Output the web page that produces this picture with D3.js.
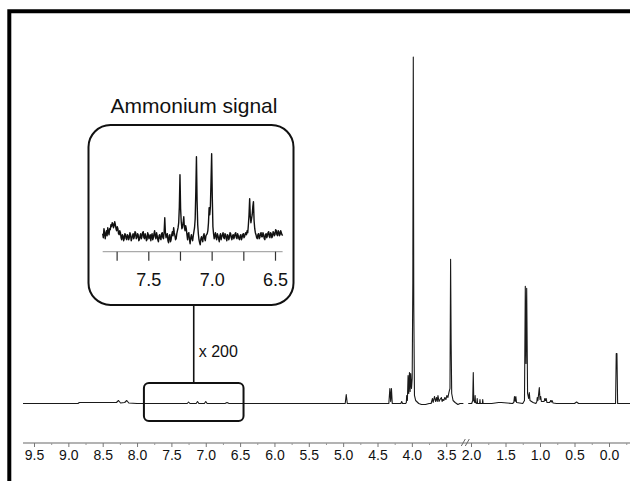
<!DOCTYPE html>
<html>
<head>
<meta charset="utf-8">
<script src="https://cdn.jsdelivr.net/npm/d3@7"></script>
<style>
  html, body { margin: 0; padding: 0; background: #fff; }
  svg { display: block; }
  text { font-family: "Liberation Sans", Arial, Helvetica, sans-serif; fill: #111; }
</style>
</head>
<body>
<svg id="chart" width="630" height="481"></svg>
<script>
// ---------------- DATA ----------------
// Main 1H spectrum, left part of broken axis (ppm, intensity a.u.)
const spectrumLeft = [
  [9.66, 0], [8.86, 0], [8.84, 1], [8.30, 1], [8.27, 3], [8.24, 0.5], [8.18, 1], [8.15, 3], [8.12, 0.5], [8.00, 0],
  [7.27, 0], [7.25, 1.5], [7.23, 0], [7.14, 0], [7.12, 2], [7.10, 0], [7.02, 0], [7.00, 2], [6.98, 0],
  [6.72, 0], [6.69, 1], [6.66, 0],
  [4.97, 0], [4.955, 9], [4.94, 0],
  [4.335, 0], [4.32, 15], [4.308, 2], [4.297, 15], [4.285, 0],
  [4.16, 0], [4.148, 2], [4.135, 0],
  [4.09, 0], [4.08, 1], [4.075, 8], [4.065, 3], [4.055, 28], [4.045, 10], [4.035, 31], [4.025, 12],
  [4.017, 30], [4.005, 15], [3.995, 25], [3.986, 120], [3.979, 346], [3.972, 100], [3.962, 8],
  [3.945, 3], [3.90, 0], [3.86, -1], [3.80, -1], [3.75, 0],
  [3.72, 0], [3.70, 5], [3.69, 1], [3.67, 7], [3.655, 2], [3.64, 6], [3.63, 2], [3.62, 8], [3.605, 2],
  [3.59, 4], [3.57, 6], [3.56, 2], [3.55, 4], [3.535, 3], [3.52, 6], [3.505, 4], [3.49, 8], [3.475, 6],
  [3.46, 11], [3.445, 15], [3.436, 144], [3.428, 60], [3.42, 10], [3.40, 3], [3.37, 1], [3.33, -1], [3.30, 0], [3.25, 0]
];
// Main spectrum, right part of broken axis
const spectrumRight = [
  [2.04, 0], [1.99, 0], [1.975, 3], [1.967, 31], [1.96, 3], [1.945, 1], [1.94, 8], [1.935, 1],
  [1.915, 0], [1.91, 5], [1.905, 0], [1.875, 0], [1.87, 4], [1.865, 0], [1.835, 0], [1.83, 4], [1.825, 0],
  [1.70, 0], [1.60, 1], [1.56, 1], [1.40, 0], [1.38, 1], [1.37, 7], [1.36, 2], [1.35, 7], [1.34, 1],
  [1.25, 0], [1.225, 3], [1.213, 117], [1.203, 40], [1.193, 115], [1.18, 10], [1.165, 5], [1.155, 11], [1.145, 3],
  [1.10, 1], [1.06, 0], [1.045, 2], [1.04, 6], [1.03, 3], [1.01, 16], [1.0, 4], [0.99, 7], [0.98, 2],
  [0.94, 2], [0.93, 5], [0.92, 3], [0.91, 5], [0.90, 1], [0.86, 1], [0.845, 3], [0.835, 1.5], [0.826, 3],
  [0.81, 0.5], [0.76, 0], [0.50, 0], [0.47, 1.5], [0.44, 0],
  [-0.095, 0], [-0.105, 50], [-0.115, 50], [-0.125, 0], [-0.33, 0]
];
// Inset: ammonium region, x 200 (ppm, intensity a.u.)
const insetSpectrum = [
  [7.86,3],[7.855,-1],[7.85,8],[7.845,4],[7.84,-2],[7.835,3],[7.83,6],[7.825,1],[7.82,9],[7.815,5],
  [7.81,2],[7.805,8],[7.80,7],[7.795,12],[7.79,10],[7.785,14],[7.78,13],[7.775,9],[7.77,11],[7.765,15],
  [7.76,12],[7.755,8],[7.75,6],[7.745,10],[7.74,8],[7.735,3],[7.73,2],[7.725,6],[7.72,4],[7.715,-1],
  [7.71,-3],[7.705,2],[7.70,1],[7.695,-4],[7.69,-2],[7.685,3],[7.68,2],[7.675,-2],[7.67,-3],[7.665,2],
  [7.66,1],[7.655,-3],[7.65,-1],[7.645,4],[7.64,2],[7.635,-4],[7.63,-2],[7.625,1],[7.62,3],[7.615,-2],
  [7.61,0],[7.605,5],[7.60,4],[7.595,-2],[7.59,-1],[7.585,3],[7.58,2],[7.575,-4],[7.57,-3],[7.565,1],
  [7.56,3],[7.555,-2],[7.55,0],[7.545,4],[7.54,5],[7.535,-1],[7.53,-2],[7.525,3],[7.52,1],[7.515,-4],
  [7.51,-3],[7.505,4],[7.50,2],[7.495,-2],[7.49,0],[7.485,2],[7.48,-4],[7.475,1],[7.47,3],[7.465,-3],
  [7.46,-1],[7.455,3],[7.45,6],[7.445,0],[7.44,-2],[7.435,4],[7.43,1],[7.425,-3],[7.42,-5],[7.415,1],
  [7.41,2],[7.405,-2],[7.40,-3],[7.395,3],[7.39,4],[7.385,-1],[7.38,-2],[7.375,5],[7.37,19],[7.365,4],
  [7.36,-1],[7.355,2],[7.35,3],[7.345,-4],[7.34,-6],[7.335,1],[7.33,2],[7.325,-5],[7.32,-3],[7.315,2],
  [7.31,5],[7.305,1],[7.30,9],[7.295,4],[7.29,1],[7.285,-3],[7.28,-2],[7.275,3],[7.27,6],[7.265,9],
  [7.26,14],[7.255,30],[7.25,62],[7.245,28],[7.24,15],[7.235,8],[7.23,10],[7.225,14],[7.22,20],[7.215,9],
  [7.21,6],[7.205,11],[7.20,8],[7.195,2],[7.19,-3],[7.185,3],[7.18,4],[7.175,-3],[7.17,-7],[7.165,-1],
  [7.16,2],[7.155,-2],[7.15,-4],[7.145,1],[7.14,5],[7.135,9],[7.13,18],[7.125,45],[7.12,80],[7.115,36],
  [7.11,12],[7.105,3],[7.10,-3],[7.095,-6],[7.09,-8],[7.085,-2],[7.08,0],[7.075,-3],[7.07,-5],[7.065,1],
  [7.06,3],[7.055,-2],[7.05,-4],[7.045,1],[7.04,2],[7.035,3],[7.03,6],[7.025,14],[7.02,29],[7.015,22],
  [7.01,30],[7.005,55],[7.00,83],[6.995,40],[6.99,10],[6.985,3],[6.98,-2],[6.975,1],[6.97,4],[6.965,-1],
  [6.96,-3],[6.955,3],[6.95,1],[6.945,-2],[6.94,-5],[6.935,1],[6.93,3],[6.925,-3],[6.92,0],[6.915,2],
  [6.91,4],[6.905,-1],[6.90,-2],[6.895,3],[6.89,2],[6.885,-2],[6.88,-4],[6.875,2],[6.87,1],[6.865,-3],
  [6.86,-1],[6.855,4],[6.85,3],[6.845,-1],[6.84,-3],[6.835,1],[6.83,2],[6.825,-2],[6.82,0],[6.815,3],
  [6.81,4],[6.805,-1],[6.80,-2],[6.795,3],[6.79,1],[6.785,-2],[6.78,-3],[6.775,1],[6.77,2],[6.765,-3],
  [6.76,-1],[6.755,2],[6.75,3],[6.745,-1],[6.74,0],[6.735,3],[6.73,4],[6.725,2],[6.72,6],[6.715,4],
  [6.71,12],[6.705,22],[6.70,38],[6.695,20],[6.69,14],[6.685,18],[6.68,22],[6.675,30],[6.67,35],[6.665,16],
  [6.66,8],[6.655,4],[6.65,2],[6.645,-1],[6.64,-2],[6.635,2],[6.63,3],[6.625,-2],[6.62,-1],[6.615,3],
  [6.61,4],[6.605,0],[6.60,0],[6.595,4],[6.59,2],[6.585,-2],[6.58,-3],[6.575,2],[6.57,3],[6.565,-1],
  [6.56,1],[6.555,4],[6.55,5],[6.545,0],[6.54,-1],[6.535,4],[6.53,3],[6.525,-1],[6.52,0],[6.515,5],
  [6.51,4],[6.505,1],[6.50,2],[6.495,7],[6.49,6],[6.485,2],[6.48,1],[6.475,6],[6.47,5],[6.465,1],
  [6.46,2],[6.455,6],[6.45,4],[6.445,2],[6.44,1]
];
// Tick values / labels
const majorTicksLeft = [9.5, 9.0, 8.5, 8.0, 7.5, 7.0, 6.5, 6.0, 5.5, 5.0, 4.5, 4.0, 3.5];
const minorTicksLeft = [9.25, 8.75, 8.25, 7.75, 7.25, 6.75, 6.25, 5.75, 5.25, 4.75, 4.25, 3.75];
const majorTicksRight = [2.0, 1.5, 1.0, 0.5, 0.0];
const minorTicksRight = [1.75, 1.25, 0.75, 0.25, -0.25];
const insetTicks = [7.75, 7.5, 7.25, 7.0, 6.75, 6.5];
const insetLabels = [7.5, 7.0, 6.5];
const insetTitle = "Ammonium signal";
const magnification = "x 200";

// ---------------- DRAW ----------------
const svg = d3.select("#chart");
const fmt = d3.format(".1f");

// frame (left + top border)
svg.append("path")
  .attr("d", "M9.3,483V11.3H632")
  .attr("fill", "none").attr("stroke", "#000").attr("stroke-width", 4);

// scales of the broken axis
const xL = d3.scaleLinear().domain([9.5, 3.5]).range([34, 446.2]);
xL.range([xL(9.66), xL(3.25)]).domain([9.66, 3.25]);
const xR = d3.scaleLinear().domain([2.0, 0.0]).range([471, 609]);
xR.range([xR(2.04), xR(-0.33)]).domain([2.04, -0.33]);
const y = d3.scaleLinear().domain([0, 346]).range([403.5, 57]);

const axisY = 443;

// spectrum lines
const lineL = d3.line().x(d => xL(d[0])).y(d => y(d[1]));
const lineR = d3.line().x(d => xR(d[0])).y(d => y(d[1]));
svg.append("path").datum(spectrumLeft).attr("d", lineL)
  .attr("fill", "none").attr("stroke", "#1a1a1a").attr("stroke-width", 1.1).attr("stroke-linejoin", "round");
svg.append("path").datum(spectrumRight).attr("d", lineR)
  .attr("fill", "none").attr("stroke", "#1a1a1a").attr("stroke-width", 1.1).attr("stroke-linejoin", "round");

// axis baseline (continuous) + break marks
svg.append("line")
  .attr("x1", xL(9.66)).attr("x2", 630).attr("y1", axisY).attr("y2", axisY)
  .attr("stroke", "#9a9a9a").attr("stroke-width", 1.3);
const breakX = (xL(3.25) + xR(2.04)) / 2;
[-2.5, 1.5].forEach(off => {
  svg.append("line")
    .attr("x1", breakX + off - 2).attr("y1", axisY + 3)
    .attr("x2", breakX + off + 2).attr("y2", axisY - 4)
    .attr("stroke", "#666").attr("stroke-width", 1);
});

function drawAxis(scale, major, minor) {
  const gMaj = svg.append("g").attr("transform", `translate(0,${axisY})`)
    .call(d3.axisBottom(scale).tickValues(major).tickFormat(fmt).tickSize(4).tickPadding(3));
  gMaj.select(".domain").remove();
  gMaj.selectAll(".tick line").attr("stroke", "#777");
  gMaj.selectAll(".tick text")
    .style("font-family", '"Liberation Sans", Arial, sans-serif')
    .style("font-size", "14px").attr("fill", "#111");
  const gMin = svg.append("g").attr("transform", `translate(0,${axisY})`)
    .call(d3.axisBottom(scale).tickValues(minor).tickFormat("").tickSize(2));
  gMin.select(".domain").remove();
  gMin.selectAll(".tick line").attr("stroke", "#999");
}
drawAxis(xL, majorTicksLeft, minorTicksLeft);
drawAxis(xR, majorTicksRight, minorTicksRight.filter(d => d >= xR.domain()[1]));

// highlighted region box on main spectrum
const boxX0 = xL(7.9), boxX1 = xL(6.45);
svg.append("rect")
  .attr("x", boxX0).attr("y", 383).attr("width", boxX1 - boxX0).attr("height", 38)
  .attr("rx", 5).attr("fill", "none").attr("stroke", "#111").attr("stroke-width", 2);

// connector
const connX = (boxX0 + boxX1) / 2;
svg.append("line")
  .attr("x1", connX).attr("x2", connX).attr("y1", 305).attr("y2", 383)
  .attr("stroke", "#111").attr("stroke-width", 1.6);
svg.append("text").attr("x", connX + 5).attr("y", 357)
  .style("font-size", "16px").text(magnification);

// inset box
svg.append("rect")
  .attr("x", 88.5).attr("y", 125).attr("width", 205).attr("height", 180)
  .attr("rx", 22).attr("fill", "none").attr("stroke", "#111").attr("stroke-width", 2);
svg.append("text").attr("x", 194).attr("y", 113).attr("text-anchor", "middle")
  .style("font-size", "21px").text(insetTitle);

// inset scales
const xi = d3.scaleLinear().domain([7.5, 6.5]).range([148.3, 275]);
xi.range([xi(7.86), xi(6.44)]).domain([7.86, 6.44]);
const yi = d3.scaleLinear().domain([0, 83]).range([236.7, 153.7]);
const insetAxisY = 251.7;

svg.append("path").datum(insetSpectrum)
  .attr("d", d3.line().x(d => xi(d[0])).y(d => yi(d[1])))
  .attr("fill", "none").attr("stroke", "#111").attr("stroke-width", 1.4).attr("stroke-linejoin", "round");

svg.append("line")
  .attr("x1", xi(7.86)).attr("x2", xi(6.44)).attr("y1", insetAxisY).attr("y2", insetAxisY)
  .attr("stroke", "#aaa").attr("stroke-width", 1.3);
const gi = svg.append("g").attr("transform", `translate(0,${insetAxisY})`)
  .call(d3.axisBottom(xi).tickValues(insetTicks)
    .tickFormat(d => insetLabels.includes(d) ? fmt(d) : "")
    .tickSize(9).tickPadding(13));
gi.select(".domain").remove();
gi.selectAll(".tick line").attr("stroke", "#333").attr("stroke-width", 1.2);
gi.selectAll(".tick text")
  .style("font-family", '"Liberation Sans", Arial, sans-serif')
  .style("font-size", "18px").attr("fill", "#111");
</script>
</body>
</html>
